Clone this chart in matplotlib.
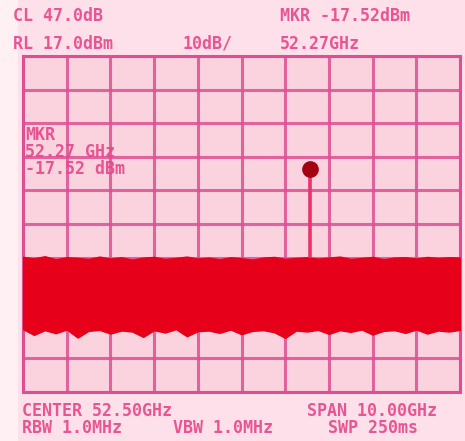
import matplotlib
matplotlib.use("Agg")
import matplotlib.pyplot as plt
import numpy as np

# ---- data ----
ref_level = 17.0        # dBm, top of screen
db_per_div = 10.0
center_ghz = 52.50
span_ghz = 10.00
peak_freq = 54.07       # GHz, horizontal position of the marker peak
peak_level = -16.5      # dBm, drawn level of the marker dot

noise_freq = [47.5, 47.75, 48.0, 48.25, 48.5, 48.75, 49.0, 49.25, 49.5, 49.75,
              50.0, 50.25, 50.5, 50.75, 51.0, 51.25, 51.5, 51.75, 52.0, 52.25,
              52.5, 52.75, 53.0, 53.25, 53.5, 53.75, 54.0, 54.25, 54.5, 54.75,
              55.0, 55.25, 55.5, 55.75, 56.0, 56.25, 56.5, 56.75, 57.0, 57.25, 57.5]
noise_top = [-42.8, -43.2, -42.6, -43.5, -42.9, -43.1, -43.4, -42.7, -43.3, -42.9,
             -43.6, -43.0, -42.8, -43.4, -43.1, -42.7, -43.3, -43.0, -43.5, -42.9,
             -43.2, -43.6, -43.0, -42.8, -43.4, -43.1, -42.9, -43.3, -43.0, -42.7,
             -43.4, -43.1, -42.8, -43.5, -43.0, -42.9, -43.3, -42.8, -43.1, -42.9, -43.0]
noise_bottom = [-64.3, -66.0, -64.6, -65.5, -64.4, -66.8, -64.8, -64.5, -65.6, -64.7,
                -65.0, -66.6, -64.6, -65.3, -64.3, -66.4, -64.9, -64.7, -65.4, -64.4,
                -65.8, -64.8, -64.6, -65.2, -66.9, -64.7, -65.0, -64.5, -65.7, -64.6,
                -65.1, -64.4, -65.9, -64.8, -64.6, -65.4, -64.4, -65.6, -64.7, -65.0, -64.5]

top_left_1 = "CL 47.0dB"
top_left_2 = "RL 17.0dBm"
top_mid_2 = "10dB/"
top_right_1 = "MKR -17.52dBm"
top_right_2 = "52.27GHz"
mkr_block = ["MKR", "52.27 GHz", "-17.52 dBm"]
bot_left_1 = "CENTER 52.50GHz"
bot_right_1 = "SPAN 10.00GHz"
bot_left_2 = "RBW 1.0MHz"
bot_mid_2 = "VBW 1.0MHz"
bot_right_2 = "SWP 250ms"

# ---- style ----
W, H = 465, 441
bg_out = "#fde0e9"
bg_in = "#fbd3df"
grid_c = "#dc4f92"
text_c = "#e6468a"
noise_c = "#e6001a"
stem_c = "#e8336c"
dot_c = "#a30012"

fig = plt.figure(figsize=(W / 100, H / 100), dpi=100)
fig.patch.set_facecolor(bg_out)
# lighter strip on the left edge
fig.patches.append(plt.Rectangle((0, 0), 18 / W, 1, transform=fig.transFigure,
                                 facecolor="#fff0f4", edgecolor="none", zorder=0))

x0, x1 = 23, 460
y0, y1 = 56, 392
ax = fig.add_axes([x0 / W, 1 - y1 / H, (x1 - x0) / W, (y1 - y0) / H])
ax.set_facecolor(bg_in)

fmin = center_ghz - span_ghz / 2
fmax = center_ghz + span_ghz / 2
ymin = ref_level - 10 * db_per_div
ax.set_xlim(fmin, fmax)
ax.set_ylim(ymin, ref_level)
ax.set_xticks(np.arange(fmin, fmax + 0.01, span_ghz / 10))
ax.set_yticks(np.arange(ymin, ref_level + 0.01, db_per_div))
ax.tick_params(length=0, labelbottom=False, labelleft=False)
ax.grid(True, color=grid_c, linewidth=2.2, alpha=0.85)
ax.set_axisbelow(True)
for s in ax.spines.values():
    s.set_color(grid_c)
    s.set_linewidth(2.2)

ax.fill_between(noise_freq, noise_bottom, noise_top, color=noise_c, linewidth=1.0,
                edgecolor=noise_c, zorder=3)
ax.plot([peak_freq, peak_freq], [max(noise_top), peak_level], color=stem_c,
        linewidth=2.6, zorder=4)
ax.plot([peak_freq], [peak_level], "o", color=dot_c, markersize=11, zorder=5)

fp = dict(family="DejaVu Sans Mono", fontweight="bold", color=text_c, fontsize=12,
          va="center", ha="left", alpha=0.9)


def put(txt, px, py):
    fig.text(px / W, 1 - py / H, txt, **fp)


put(top_left_1, 13, 16)
put(top_right_1, 280, 16)
put(top_left_2, 13, 44)
put(top_mid_2, 182, 44)
put(top_right_2, 280, 44)
for i, t in enumerate(mkr_block):
    put(t, 25, 135 + i * 17)
put(bot_left_1, 22, 411)
put(bot_right_1, 307, 411)
put(bot_left_2, 22, 428)
put(bot_mid_2, 173, 428)
put(bot_right_2, 328, 428)

fig.savefig("out.png", dpi=100, facecolor=fig.get_facecolor())
